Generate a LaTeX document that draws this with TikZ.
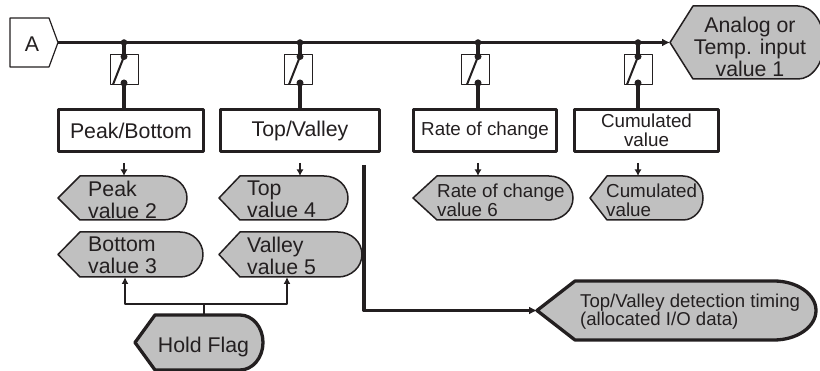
\documentclass[tikz,border=0pt]{standalone}
\usepackage{fontspec}
\setmainfont{Liberation Sans}
\usetikzlibrary{arrows.meta}
\definecolor{ink}{RGB}{35,31,32}
\definecolor{shade}{RGB}{192,192,192}
% name, tip x, top y, bottom y, right x, point depth, round radius, style
\newcommand\outshape[8]{%
  \path[#8] (#2,{(#3+#4)/2}) -- ({#2+#6},#3) -- ({#5-#7},#3)
     arc[start angle=-90,end angle=90,x radius=#7,y radius={(#4-#3)/2}]
     -- ({#2+#6},#4) -- cycle;
  \coordinate (#1-tip) at (#2,{(#3+#4)/2});
}
\begin{document}
\begin{tikzpicture}[x=1pt,y=-1pt,line join=round,
  bus/.style={draw=ink,line width=3.5pt},
  thinline/.style={draw=ink,line width=1.2pt},
  slash/.style={draw=ink,line width=2pt},
  fbox/.style={draw=ink,line width=3.3pt,fill=white,inner sep=0pt,minimum height=42pt},
  swbox/.style={draw=ink,line width=1.1pt,minimum width=28pt,minimum height=30pt,inner sep=0pt},
  outline/.style={draw=ink,fill=shade,line width=1.5pt},
  boldoutline/.style={draw=ink,fill=shade,line width=3.3pt},
  bigtxt/.style={text=ink,font=\fontsize{21.3}{22}\selectfont,inner sep=0pt},
  smalltxt/.style={text=ink,font=\fontsize{18.8}{19}\selectfont,inner sep=0pt},
  dot/.style={circle,fill=ink,inner sep=0pt,minimum size=7pt},
  jdot/.style={circle,fill=ink,inner sep=0pt,minimum size=6.5pt},
  downarr/.style={draw=ink,line width=2.4pt,-{Latex[length=6.5pt,width=7pt]}},
  uparr/.style={draw=ink,line width=2.3pt,-{Latex[length=7pt,width=7pt]}},
  busarr/.style={bus,-{Latex[length=8pt,width=8pt]}}]
\useasboundingbox (0,0) rectangle (820,371);

% input A
\path[thinline,fill=white] (10,18) -- (49,18) -- (58,42.5) -- (49,67) -- (10,67) -- cycle;
\coordinate (A-tip) at (58,42.5);
\node[bigtxt,anchor=base] (A) at (32,52) {A};

% analog output
\outshape{analog}{670}{6}{79}{824}{23}{26}{outline}
\node[bigtxt,align=center] (analogt) at (750,46.4) {Analog or\\Temp. input\\value 1};

% main bus
\draw[busarr] (A-tip) -- (analog-tip);

% junctions and switches
\foreach \n/\X/\bx in {1/124/124.5,2/300/298.5,3/478/475.5,4/638/638.5}{
  \node[jdot] (j\n) at (\X,42.5) {};
  \node[swbox] (sw\n) at (\bx,69.5) {};
  \node[dot] (s\n t) at (\X,56.5) {};
  \node[dot] (s\n b) at (\X,83) {};
  \coordinate (s\n e) at (\X-11,84.5);
}

% function boxes
\node[fbox,bigtxt,minimum width=145pt] (pb) at (131,130.5) {Peak/Bottom};
\node[fbox,bigtxt,minimum width=159pt] (tv) at (300,130.5) {Top/Valley};
\node[fbox,smalltxt,minimum width=143pt] (rc) at (485,130.5) {Rate of change};
\node[fbox,smalltxt,minimum width=144pt,align=center] (cv) at (646.5,130.5) {Cumulated\\value};

\foreach \n/\b in {1/pb,2/tv,3/rc,4/cv}{
  \draw[bus] (j\n.center) -- (s\n t.center);
  \draw[slash] (s\n t.center) -- (s\n e);
  \draw[bus] (s\n b.center) -- (s\n b |- \b.north);
}

% output values
\outshape{peak}{58}{176}{220}{187}{22}{24}{outline}
\node[bigtxt,anchor=west,align=left] (peakt) at (88,199.4) {Peak\\value 2};
\outshape{bottom}{58}{232}{277}{203}{22}{23}{outline}
\node[bigtxt,anchor=west,align=left] (bottomt) at (88,255.4) {Bottom\\value 3};
\outshape{top}{219}{176}{220}{348}{21}{24}{outline}
\node[bigtxt,anchor=west,align=left] (topt) at (247,199.4) {Top\\value 4};
\outshape{valley}{219}{232}{277}{362}{21}{24}{outline}
\node[bigtxt,anchor=west,align=left] (valleyt) at (247,255.4) {Valley\\value 5};
\outshape{rate}{413}{176}{220}{573}{24}{24}{outline}
\node[smalltxt,anchor=west,align=left] (ratet) at (437,200) {Rate of change\\value 6};
\outshape{cum}{590}{176}{220}{703}{17}{20}{outline}
\node[smalltxt,anchor=west,align=left] (cumt) at (606,200) {Cumulated\\value};

% small arrows from boxes to values
\coordinate (peak-n) at (124,176);
\coordinate (top-n) at (300,176);
\coordinate (rate-n) at (478,176);
\coordinate (cum-n) at (638,176);
\foreach \s/\v in {s1b/peak,s2b/top,s3b/rate,s4b/cum}{
  \draw[downarr] (\s |- 0,163) -- (\v-n);
}

% hold flag
\outshape{hold}{135}{315}{370}{263}{20}{23}{boldoutline}
\node[bigtxt,anchor=base] (holdt) at (203.5,353) {Hold Flag};
\coordinate (hold-n) at (204,315);
\coordinate (hj) at (204,304);
\coordinate (bottom-s) at (125,277);
\coordinate (valley-s) at (287,277);
\draw[thinline] (hold-n) -- (hj);
\draw[uparr] (hj) -| (bottom-s);
\draw[uparr] (hj) -| (valley-s);

% top/valley detection timing
\outshape{tvd}{537}{281}{340}{816}{38}{42}{boldoutline}
\node[text=ink,font=\fontsize{18.6}{18}\selectfont,inner sep=0pt,anchor=west,align=left] (tvdt) at (580,311.2) {Top/Valley detection timing\\(allocated I/O data)};
\coordinate (tvs) at (364,165);
\draw[busarr] (tvs) |- (tvd-tip);
\end{tikzpicture}
\end{document}
